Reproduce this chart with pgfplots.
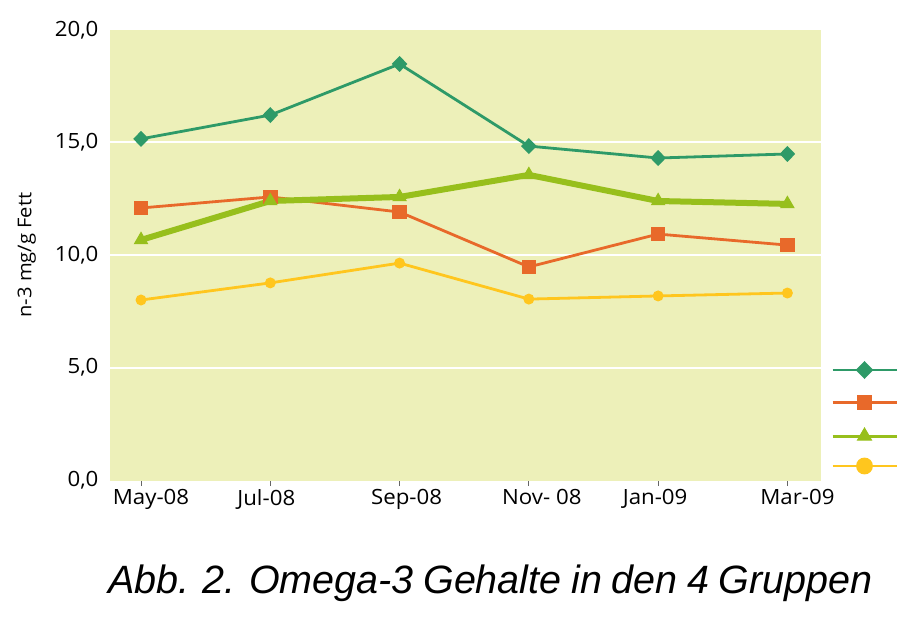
\documentclass[border=0pt]{standalone}
\usepackage{fontspec}
\setmainfont{Open Sans}[FakeStretch=1.06]
\newfontfamily\capfont{Liberation Sans}[WordSpace=0.88]
\usepackage{pgfplots}
\pgfplotsset{compat=1.18}
\definecolor{dgreen}{HTML}{2E9A68}
\definecolor{orng}{HTML}{E8692A}
\definecolor{lgreen}{HTML}{97BF1C}
\definecolor{yel}{HTML}{FFC61E}
\definecolor{bg}{HTML}{EDF0B9}
\begin{document}
\begin{tikzpicture}
\begin{axis}[
  scale only axis, width=711pt, height=450pt,
  xmin=-0.24, xmax=5.26, ymin=0, ymax=20,
  axis x line*=bottom, axis y line*=left,
  axis line style={bg, line width=0.1pt},
  axis background/.style={fill=bg},
  xtick={0,1,2,3,4,5},
  xticklabels={\hspace*{20pt}May-08,Jul-08\hspace*{8pt},\hspace*{14pt}Sep-08,\hspace*{26pt}Nov- 08,Jan-09\hspace*{6pt},\hspace*{20pt}Mar-09},
  xtick style={draw=black!60, line width=1pt},
  ytick={0,5,10,15,20},
  yticklabels={{0,0},{5,0},{10,0},{15,0},{20,0}},
  extra y ticks={5,10,15},
  extra y tick labels={},
  extra y tick style={grid=major, major grid style={white, line width=2pt}},
  ytick style={draw=none},
  tick align=outside,
  major tick length=6pt,
  tick label style={font=\fontsize{21}{24}\selectfont},
  yticklabel style={xshift=-2pt},
  ylabel={n-3 mg/g Fett},
  ylabel style={font=\fontsize{19}{22}\selectfont},
  ylabel shift=0pt,
  legend style={at={(1,0)}, anchor=south west, xshift=10pt, yshift=7pt, draw=none, fill=none,
    inner sep=0pt, outer sep=0pt, row sep=19pt, nodes={inner sep=0pt, outer sep=0pt}},
  legend image code/.code={\draw[mark repeat=2,mark phase=2] plot coordinates {(0pt,0pt)(32pt,0pt)(64pt,0pt)};},
  clip=false,
]
\addplot[color=dgreen, line width=2.8pt, mark=diamond*, mark options={xscale=1.3, solid}, mark size=6pt,
  legend image post style={mark size=7pt}]
  coordinates {(0,15.16) (1,16.22) (2,18.49) (3,14.84) (4,14.31) (5,14.49)};
\addlegendentry{}
\addplot[color=orng, line width=2.8pt, mark=square*, mark size=5.8pt,
  legend image post style={mark size=6.5pt}]
  coordinates {(0,12.09) (1,12.58) (2,11.91) (3,9.47) (4,10.93) (5,10.44)};
\addlegendentry{}
\addplot[color=lgreen, line width=6pt, mark=triangle*, mark size=7.5pt, mark options={line width=1pt},
  legend image post style={line width=3pt, mark size=8pt}]
  coordinates {(0,10.67) (1,12.40) (2,12.58) (3,13.56) (4,12.40) (5,12.27)};
\addlegendentry{}
\addplot[color=yel, line width=2.8pt, mark=*, mark size=4pt,
  legend image post style={mark size=7pt}]
  coordinates {(0,8.00) (1,8.76) (2,9.64) (3,8.04) (4,8.18) (5,8.31)};
\addlegendentry{}
\end{axis}
\node[anchor=base west, inner sep=0pt, font=\capfont\itshape\fontsize{39.5}{44}\selectfont]
  at ([xshift=-2pt,yshift=-113pt]current axis.south west) {Abb. 2. Omega-3 Gehalte in den 4 Gruppen};
\path ([xshift=-110pt,yshift=-141pt]current axis.south west) rectangle ([xshift=80pt,yshift=30pt]current axis.north east);
\end{tikzpicture}
\end{document}
